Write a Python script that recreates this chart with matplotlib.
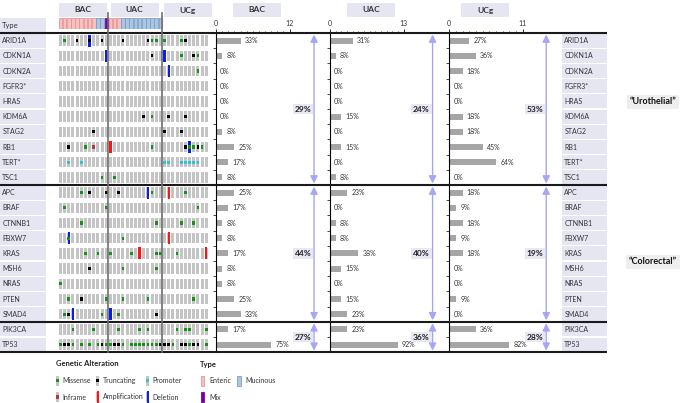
import matplotlib
matplotlib.use("Agg")
import matplotlib.pyplot as plt
from matplotlib.patches import Rectangle
import numpy as np

plt.rcParams['font.family'] = ['Lato', 'DejaVu Sans']

# ---- data -------------------------------------------------------------
genes = ["ARID1A", "CDKN1A", "CDKN2A", "FGFR3", "HRAS", "KDM6A", "STAG2", "RB1",
         "TERT", "TSC1", "APC", "BRAF", "CTNNB1", "FBXW7", "KRAS", "MSH6", "NRAS",
         "PTEN", "SMAD4", "PIK3CA", "TP53"]
starred = ["FGFR3", "TERT"]
block_sizes = [10, 9, 2]            # urothelial / colorectal / shared genes
groups = ["BAC", "UAC", "UCg"]
group_n = [12, 13, 11]
# E enteric, M mucinous, X mix, . none
sample_types = "EEEEEEEEEMMX" + "EEEMMMMMMMMMM" + "..........."

# M missense, T truncating, P promoter, I inframe, A amplification, D deletion,
# K deletion+truncating, N deletion+missense   (BAC | UAC | UCg)
alterations = {
    "ARID1A": ".M..T..K..T.|...T.....TMM.|M...MT.....",
    "CDKN1A": "...........D|..........T..|D...M..TM..",
    "CDKN2A": "............|.............|.D......M..",
    "FGFR3":  "............|.............|...........",
    "HRAS":   "............|.............|...........",
    "KDM6A":  "............|........T.M..|.T...T.....",
    "STAG2":  "........T...|.............|T...T......",
    "RB1":    "..T...M.I...|A.........M..|.....TNMTM.",
    "TERT":   "..P..P......|.............|PP..PPPPP..",
    "TSC1":   "..........M.|.M...........|...........",
    "APC":    ".....M.T...T|..T......DM..|.A...M.....",
    "BRAF":   ".M.........M|.............|........M..",
    "CTNNB1": ".....M......|...........M.|....M..M...",
    "FBXW7":  "..N.........|...M.........|.A.........",
    "KRAS":   "......M..M..|M....M.A...MM|...M......A",
    "MSH6":   ".......T....|...M.......M.|...........",
    "NRAS":   "M...........|.............|...........",
    "PTEN":   "..M..T.....M|...M.....M...|.......M...",
    "SMAD4":  ".MTD......M.|D.M........T.|...........",
    "PIK3CA": "...M....M...|..M....M.M...|...M.MM...M",
    "TP53":   "MTTM.M.M.MTM|MTTM.MMMMMMMT|TTM.TTMTT.M",
}
block_totals = {"BAC": [29, 44, 27], "UAC": [24, 40, 36], "UCg": [53, 19, 28]}

# ---- styling ----------------------------------------------------------
grey = "#c4c4c4"
lav = "#e6e6f3"
alt_col = {"M": "#149414", "T": "#000000", "P": "#2ec4d6", "I": "#a3413f",
           "A": "#ff1414", "D": "#0a1ee8"}
type_col = {"E": ("#f6c1c1", "#e59494"), "M": ("#a9c6e4", "#7d9dc6"),
            "X": ("#7a00a6", "#7a00a6")}
arrow_c = "#a6a6f2"

W, H = 684, 403
fig = plt.figure(figsize=(W / 100, H / 100), dpi=100)


def px_axes(x0, y0, x1, y1):
    a = fig.add_axes([x0 / W, 1 - y1 / H, (x1 - x0) / W, (y1 - y0) / H])
    a.set_facecolor("none")
    return a


top, row_h = 33.0, 15.2
n_rows = len(genes)
bottom = top + row_h * n_rows
n_samp = sum(group_n)
onco_x0, onco_x1 = 58.3, 208.3
col_w = (onco_x1 - onco_x0) / n_samp
rows = np.arange(n_rows) + 0.5
grid = [alterations[g].replace("|", "") for g in genes]
starts = np.cumsum([0] + group_n)

# ---- oncoprint --------------------------------------------------------
ax = px_axes(onco_x0, top, onco_x1, bottom)
ax.set_xlim(0, n_samp)
ax.set_ylim(n_rows, 0)
ax.axis("off")
cols = np.arange(n_samp) + 0.5
for r in range(n_rows):
    ax.bar(cols, 0.69, width=0.72, bottom=rows[r] - 0.345, color=grey, lw=0)
for r, line in enumerate(grid):
    for c, code in enumerate(line):
        if code == ".":
            continue
        if code in "ADKN":
            ax.bar(c + 0.5, 0.78, width=0.55, bottom=rows[r] - 0.39,
                   color=alt_col["D" if code in "DKN" else "A"], lw=0)
        small = {"K": "T", "N": "M"}.get(code, code)
        if small in "MTPI":
            ax.bar(c + 0.5, 0.22, width=0.62, bottom=rows[r] - 0.11,
                   color=alt_col[small], lw=0)

# sample type strip
axt = px_axes(onco_x0, 18, onco_x1, 28.5)
axt.set_xlim(0, n_samp)
axt.set_ylim(0, 1)
axt.axis("off")
for c, t in enumerate(sample_types):
    if t in type_col:
        fc, ec = type_col[t]
        axt.bar(c + 0.5, 1, width=0.9 if t != "X" else 0.65, color=fc,
                edgecolor=ec, lw=0.6)

# gene label columns
for x0, x1 in [(0, 45.5), (562, 607)]:
    axl = px_axes(x0, top, x1, bottom)
    axl.set_xlim(0, 1)
    axl.set_ylim(n_rows, 0)
    axl.axis("off")
    axl.barh(rows, 1, height=0.92, color=lav, lw=0)
    for r, g in enumerate(genes):
        lab = g + "*" if g in starred else g
        axl.text(0.05, rows[r], lab, fontsize=5, va="center", color="#333333")

# ---- bar panels -------------------------------------------------------
panel_x = [216.0, 330.0, 449.3, 562.0]
tick_px = 73.5
bounds = np.cumsum([0] + block_sizes)
for k, grp in enumerate(groups):
    n = group_n[k]
    sub = [line[starts[k]:starts[k + 1]] for line in grid]
    counts = np.array([sum(ch != "." for ch in s) for s in sub])
    axb = px_axes(panel_x[k], top, panel_x[k + 1], bottom)
    wpx = panel_x[k + 1] - panel_x[k]
    axb.set_xlim(0, wpx / (tick_px / n))
    axb.set_ylim(n_rows, 0)
    axb.barh(rows, counts, height=0.4, color="#a6a6a6", lw=0)
    for r, cnt in enumerate(counts):
        axb.annotate(f"{round(100 * cnt / n)}%", (cnt, rows[r]), xytext=(3, 0),
                     textcoords="offset points", va="center", fontsize=5,
                     color="#333333")
    axb.xaxis.tick_top()
    axb.set_xticks([0, n])
    axb.set_xticks(np.arange(1, n), minor=True)
    axb.tick_params(axis="x", which="major", length=3, width=0.6, pad=1.5,
                    labelsize=5, labelcolor="#333333")
    axb.tick_params(axis="x", which="minor", length=1.5, width=0.5)
    axb.set_yticks(np.arange(1, n_rows))
    axb.tick_params(axis="y", length=2, width=0.5, labelleft=False)
    for s in ["top", "right", "bottom"]:
        axb.spines[s].set_visible(False)
    axb.spines["left"].set_linewidth(0.8)
    tr = axb.get_yaxis_transform()
    for j, pct in enumerate(block_totals[grp]):
        b0, b1 = bounds[j], bounds[j + 1]
        axb.annotate("", xy=(0.86, b0 + 0.1), xytext=(0.86, b1 - 0.1),
                     xycoords=tr, textcoords=tr,
                     arrowprops=dict(arrowstyle="<|-|>,head_length=0.4,head_width=0.2",
                                     color=arrow_c, lw=1.0, shrinkA=0, shrinkB=0,
                                     mutation_scale=11))
        axb.annotate(f"{pct}%", xy=(0.86, (b0 + b1) / 2), xycoords=tr,
                     xytext=(-8, 0), textcoords="offset points", ha="center",
                     va="center", fontsize=6, fontweight="bold", color="#222222",
                     bbox=dict(boxstyle="square,pad=0.2", fc="#e8e8f4", ec="none"))

# ---- overlay: lines, headers, legend ----------------------------------
ov = fig.add_axes([0, 0, 1, 1], zorder=10)
ov.set_xlim(0, W)
ov.set_ylim(H, 0)
ov.axis("off")
for b in bounds:
    ov.plot([0, 607], [top + row_h * b] * 2, color="#1a1a1a", lw=1.5,
            solid_capstyle="butt")
for s in starts[1:-1]:
    ov.plot([onco_x0 + col_w * s] * 2, [13, bottom], color="#6e6e6e", lw=1.2)

ov.add_patch(Rectangle((0, 18), 45.5, 14.3, fc=lav, ec="none"))
ov.text(2, 25.5, "Type", fontsize=5.5, va="center", color="#333333")

header_cx = [83.3, 134.5, 188.0, 257.0, 371.0, 485.0]
for cx, lab in zip(header_cx, groups + groups):
    ov.add_patch(Rectangle((cx - 24, 3), 48, 13.5, fc=lav, ec="none"))
    ov.text(cx, 10, lab, ha="center", va="center", fontsize=6,
            fontweight="bold", color="#333333")

for y, lab in [(102, "\u201cUrothelial\u201d"), (262, "\u201cColorectal\u201d")]:
    ov.text(652.8, y, lab, ha="center", va="center", fontsize=6.5,
            fontweight="bold", color="#111111",
            bbox=dict(boxstyle="square,pad=0.3", fc="#eeeeee", ec="none"))

ov.text(55.5, 364, "Genetic Alteration", fontsize=5.5, fontweight="bold",
        va="center", color="#222222")
ov.text(200, 364, "Type", fontsize=5.5, fontweight="bold", va="center",
        color="#222222")

legend_alt = [("Missense", "M", 57.3, 380.5), ("Truncating", "T", 97.7, 380.5),
              ("Promoter", "P", 147.7, 380.5), ("Inframe", "I", 57.3, 397),
              ("Amplification", "A", 97.7, 397), ("Deletion", "D", 147.7, 397)]
for lab, code, x, y in legend_alt:
    ov.add_patch(Rectangle((x - 1.5, y - 5), 3, 10, fc=grey, ec="none"))
    if code in "AD":
        ov.add_patch(Rectangle((x - 1.15, y - 5.8), 2.3, 11.6, fc=alt_col[code], ec="none"))
    else:
        ov.add_patch(Rectangle((x - 1.3, y - 1.6), 2.6, 3.2, fc=alt_col[code], ec="none"))
    ov.text(x + 5, y, lab, fontsize=5, va="center", color="#333333")

legend_type = [("Enteric", "E", 202.7, 380.5), ("Mucinous", "M", 239.0, 380.5),
               ("Mix", "X", 202.7, 397)]
for lab, code, x, y in legend_type:
    fc, ec = type_col[code]
    ov.add_patch(Rectangle((x - 1.6, y - 5), 3.2, 10, fc=fc, ec=ec, lw=0.6))
    ov.text(x + 6.5, y, lab, fontsize=5, va="center", color="#333333")

fig.savefig("out.png", dpi=100)
